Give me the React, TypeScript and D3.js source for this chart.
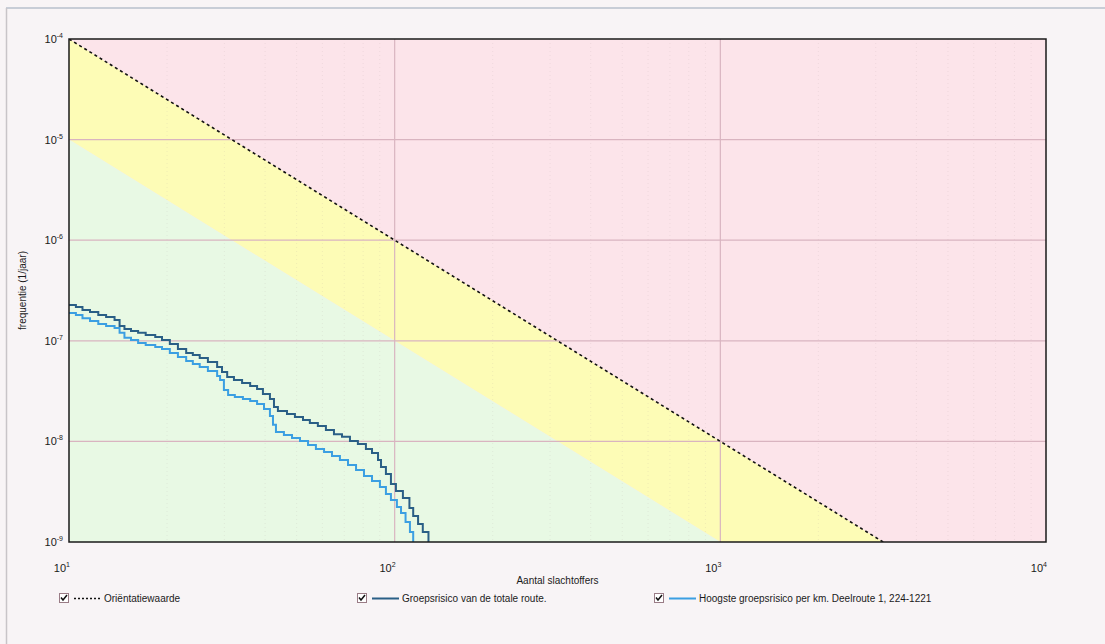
import React from 'react'
import * as d3 from 'd3'

// FN-curve, values
const groepN = [10, 10.5, 11.0, 11.6, 12.3, 13.0, 13.8, 14.3, 14.8, 15.5, 16.3, 17.2, 18.4, 19.3, 20.4, 21.6, 22.9, 24.0, 25.2, 26.7, 28.5, 29.5, 30.6, 32.1, 34.0, 36.0, 37.8, 39.4, 41.4, 42.6, 43.8, 46.7, 49.4, 52.3, 54.9, 58.1, 61.5, 65.1, 68.9, 72.9, 77.1, 81.6, 85.2, 88.9, 90.8, 94.0, 97.4, 100.9, 106, 111, 114, 118, 122, 127]
const groepF = [2.27e-7, 2.17e-7, 2.02e-7, 1.93e-7, 1.80e-7, 1.72e-7, 1.61e-7, 1.40e-7, 1.31e-7, 1.25e-7, 1.20e-7, 1.14e-7, 1.09e-7, 1.02e-7, 9.29e-8, 8.29e-8, 7.56e-8, 7.22e-8, 6.75e-8, 6.16e-8, 5.49e-8, 4.89e-8, 4.37e-8, 4.08e-8, 3.81e-8, 3.55e-8, 3.32e-8, 2.96e-8, 2.64e-8, 2.20e-8, 2.01e-8, 1.87e-8, 1.75e-8, 1.63e-8, 1.52e-8, 1.42e-8, 1.30e-8, 1.18e-8, 1.11e-8, 1.01e-8, 9.42e-9, 8.40e-9, 7.67e-9, 6.53e-9, 5.57e-9, 4.74e-9, 3.77e-9, 3.21e-9, 2.74e-9, 2.18e-9, 1.81e-9, 1.51e-9, 1.26e-9, 8e-10]

const hoogsteN = [10, 10.5, 11.0, 11.6, 12.3, 13.0, 13.8, 14.3, 14.8, 15.5, 16.3, 17.2, 18.4, 19.3, 20.4, 21.6, 22.9, 24.0, 25.2, 26.7, 28.5, 29.1, 29.9, 30.8, 32.3, 34.2, 36.0, 37.8, 39.7, 41.4, 42.3, 43.2, 45.7, 48.4, 51.2, 54.2, 57.3, 60.7, 64.2, 67.9, 71.9, 76.1, 80.5, 85.2, 90.1, 94.0, 97.4, 101.6, 104.6, 108, 111.4, 114]
const hoogsteF = [1.89e-7, 1.80e-7, 1.68e-7, 1.57e-7, 1.47e-7, 1.40e-7, 1.34e-7, 1.20e-7, 1.07e-7, 1.02e-7, 9.51e-8, 9.08e-8, 8.68e-8, 8.29e-8, 7.56e-8, 6.90e-8, 6.30e-8, 5.88e-8, 5.49e-8, 5.01e-8, 4.47e-8, 4.08e-8, 3.24e-8, 2.89e-8, 2.76e-8, 2.64e-8, 2.52e-8, 2.35e-8, 2.10e-8, 1.79e-8, 1.46e-8, 1.24e-8, 1.16e-8, 1.08e-8, 1.01e-8, 9.21e-9, 8.40e-9, 7.85e-9, 7.16e-9, 6.53e-9, 5.83e-9, 5.19e-9, 4.53e-9, 4.04e-9, 3.52e-9, 3.00e-9, 2.61e-9, 2.23e-9, 1.94e-9, 1.58e-9, 1.26e-9, 8e-10]

// orientatiewaarde 1e-2/N^2 and the band a decade below it
const owN = [10, 3162.3]
const owF = [1e-4, 1e-9]
const bandN = [10, 1000]
const bandF = [1e-5, 1e-9]

const xTickExp = [1, 2, 3, 4]
const yTickExp = [-4, -5, -6, -7, -8, -9]

const legendItems = [
  { label: 'Oriëntatiewaarde', color: '#111', dash: '2,2', x: 59 },
  { label: 'Groepsrisico van de totale route.', color: '#2a5f86', dash: null, x: 357 },
  { label: 'Hoogste groepsrisico per km. Deelroute 1, 224-1221', color: '#3b9fe2', dash: null, x: 654 },
]

const W = 1105
const H = 644
const left = 69, right = 1046, top = 39, bottom = 542
const font = 'Arial, "Liberation Sans", sans-serif'

export default function App() {
  const x = d3.scaleLog().domain([10, 1e4]).range([left, right])
  const y = d3.scaleLog().domain([1e-9, 1e-4]).range([bottom, top])

  const step = d3.line<[number, number]>()
    .x(d => x(d[0]))
    .y(d => y(d[1]))
    .curve(d3.curveStepAfter)
  const straight = d3.line<[number, number]>().x(d => x(d[0])).y(d => y(d[1]))

  const groep = groepN.map((n, i) => [n, groepF[i]] as [number, number])
  const hoogste = hoogsteN.map((n, i) => [n, hoogsteF[i]] as [number, number])
  const ow = owN.map((n, i) => [n, owF[i]] as [number, number])

  const yellowPts: [number, number][] = [[owN[0], owF[0]], [owN[1], owF[1]], [bandN[1], bandF[1]], [bandN[0], bandF[0]]]
  const greenPts: [number, number][] = [[bandN[0], bandF[0]], [bandN[1], bandF[1]], [bandN[0], bandF[1]]]

  const minorX: number[] = []
  for (let e = 1; e < 4; e++) for (let k = 2; k < 10; k++) minorX.push(k * Math.pow(10, e))

  return (
    <svg width={W} height={H} style={{ position: 'absolute', left: 0, top: 0, background: '#f8f4f6' }}>
      <defs>
        <clipPath id="plotClip">
          <rect x={left} y={top} width={right - left} height={bottom - top} />
        </clipPath>
      </defs>
      {/* outer frame of the screenshot */}
      <line x1={6} x2={W} y1={8} y2={8} stroke="#b8c0cc" strokeWidth={1.5} />
      <line x1={6.5} x2={6.5} y1={8} y2={H} stroke="#c8c4c8" strokeWidth={1.5} />

      <g clipPath="url(#plotClip)">
        <rect x={left} y={top} width={right - left} height={bottom - top} fill="#fce4ea" />
        <path d={straight(yellowPts) + 'Z'} fill="#fdfcb6" />
        <path d={straight(greenPts) + 'Z'} fill="#e8f9e4" />

        {minorX.map(v => (
          <line key={'mx' + v} x1={x(v)} x2={x(v)} y1={top} y2={bottom} stroke="#b8a8a8" strokeOpacity={0.18} strokeDasharray="1,3" />
        ))}
        {[2, 3].map(e => (
          <line key={'gx' + e} x1={x(Math.pow(10, e))} x2={x(Math.pow(10, e))} y1={top} y2={bottom} stroke="#d9b4c0" strokeWidth={1.2} />
        ))}
        {[-5, -6, -7, -8].map(e => (
          <line key={'gy' + e} x1={left} x2={right} y1={y(Math.pow(10, e))} y2={y(Math.pow(10, e))} stroke="#d9b4c0" strokeWidth={1.2} />
        ))}

        <path d={step(hoogste) ?? ''} fill="none" stroke="#3b9fe2" strokeWidth={2} />
        <path d={step(groep) ?? ''} fill="none" stroke="#2a5f86" strokeWidth={2} />
        <path d={straight(ow) ?? ''} fill="none" stroke="#111" strokeWidth={1.6} strokeDasharray="3,3" />
      </g>

      <rect x={left} y={top} width={right - left} height={bottom - top} fill="none" stroke="#1a1a1a" strokeWidth={1.5} />

      {yTickExp.map(e => (
        <text key={'yt' + e} x={63} y={y(Math.pow(10, e)) + 4} textAnchor="end" fontFamily={font} fontSize={11} fill="#1a1a1a">
          10<tspan dy={-5} fontSize={7}>{e}</tspan>
        </text>
      ))}
      {xTickExp.map(e => (
        <text key={'xt' + e} x={x(Math.pow(10, e)) + 1} y={572} textAnchor="end" fontFamily={font} fontSize={11} fill="#1a1a1a">
          10<tspan dy={-5} fontSize={7}>{e}</tspan>
        </text>
      ))}

      <text x={(left + right) / 2} y={584} textAnchor="middle" fontFamily={font} fontSize={10} fill="#1a1a1a">Aantal slachtoffers</text>
      <text transform={`translate(26,${(top + bottom) / 2}) rotate(-90)`} textAnchor="middle" fontFamily={font} fontSize={10} fill="#1a1a1a">frequentie (1/jaar)</text>

      {legendItems.map(it => (
        <g key={it.label} transform={`translate(${it.x},593)`}>
          <rect x={0.5} y={0.5} width={9} height={9} fill="#fff" stroke="#9a7c86" strokeWidth={1} />
          <path d="M2,4.5 L4,7 L8,2" fill="none" stroke="#111" strokeWidth={1.5} />
          <line x1={15} x2={42} y1={5.5} y2={5.5} stroke={it.color} strokeWidth={it.dash ? 1.6 : 2} strokeDasharray={it.dash ?? undefined} />
          <text x={45} y={9} fontFamily={font} fontSize={10} fill="#1a1a1a">{it.label}</text>
        </g>
      ))}
    </svg>
  )
}
